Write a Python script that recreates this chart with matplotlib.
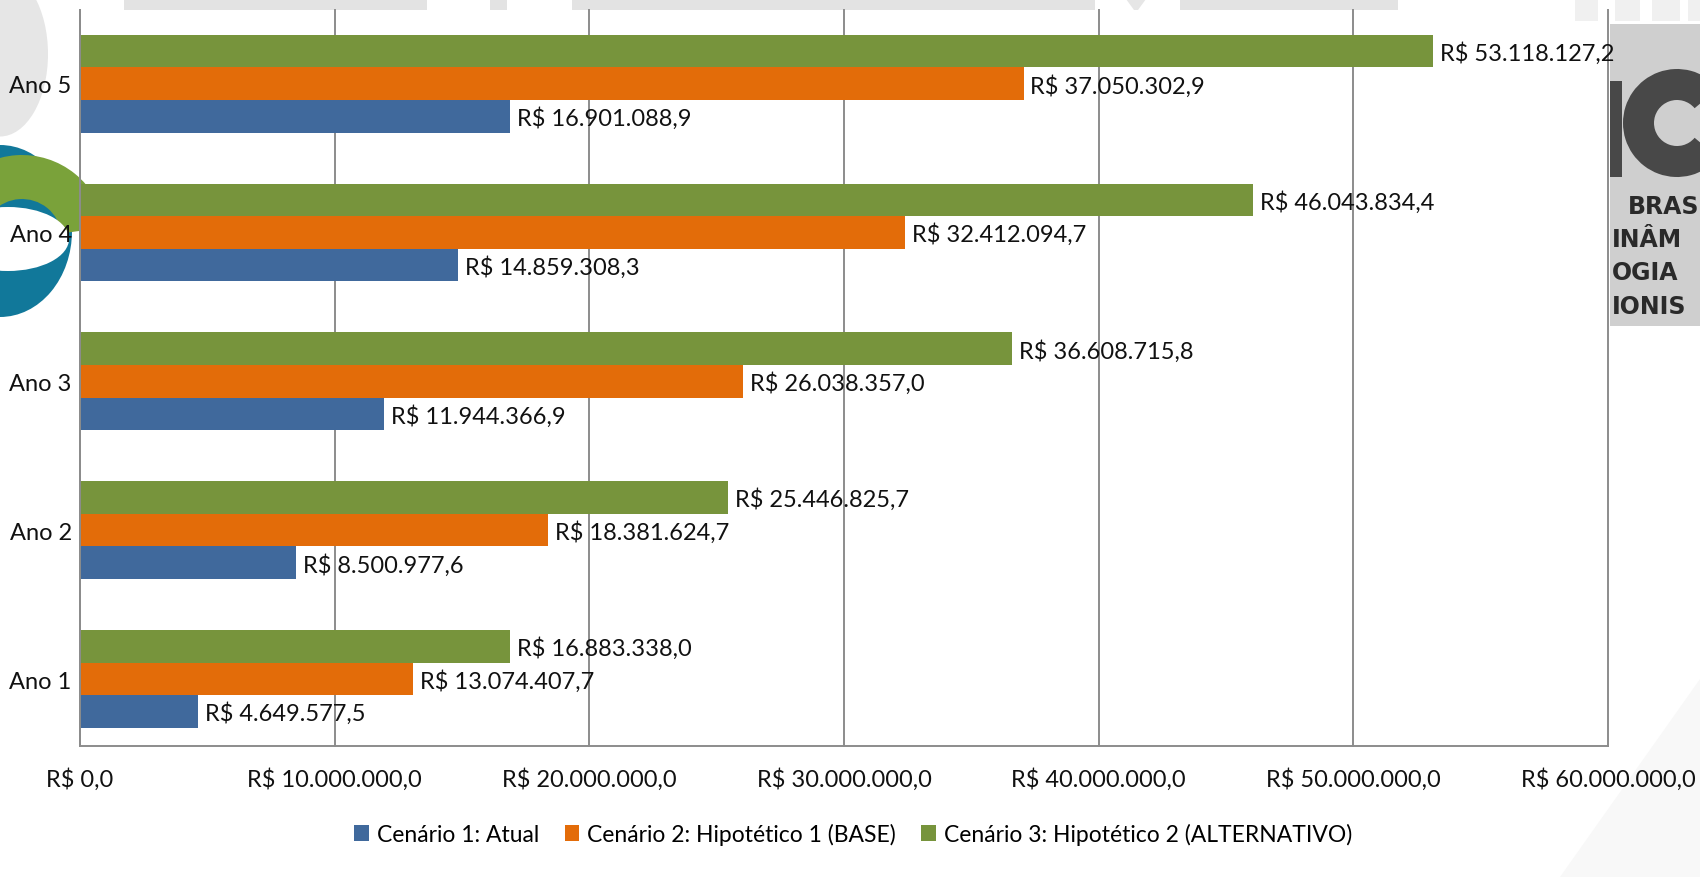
import matplotlib
matplotlib.use("Agg")
import matplotlib.pyplot as plt
from matplotlib.patches import Rectangle, Wedge, Ellipse, Polygon
import numpy as np

# valores em R$ por ano e cenário
anos = ["Ano 1", "Ano 2", "Ano 3", "Ano 4", "Ano 5"]
cenario_atual = [4649577.5, 8500977.6, 11944366.9, 14859308.3, 16901088.9]
cenario_base = [13074407.7, 18381624.7, 26038357.0, 32412094.7, 37050302.9]
cenario_alt = [16883338.0, 25446825.7, 36608715.8, 46043834.4, 53118127.2]
nomes = ["Cenário 1: Atual", "Cenário 2: Hipotético 1 (BASE)",
         "Cenário 3: Hipotético 2 (ALTERNATIVO)"]
xticks = [0, 10e6, 20e6, 30e6, 40e6, 50e6, 60e6]

cores = ["#40699C", "#E36C09", "#77943C"]
grade = "#8C8C8C"

plt.rcParams["font.family"] = ["Lato", "DejaVu Sans"]


def brl(v):
    s = f"{v:,.1f}"
    s = s.replace(",", "X").replace(".", ",").replace("X", ".")
    return "R$ " + s


W, H = 1700, 878
fig = plt.figure(figsize=(W / 100, H / 100), dpi=100)
fig.patch.set_facecolor("white")

# fundo do slide (marcas d'água e logos)
bg = fig.add_axes([0, 0, 1, 1], zorder=-1)
bg.set_xlim(0, W)
bg.set_ylim(H, 0)
bg.axis("off")
for x0, x1 in [(124, 427), (490, 507), (572, 1095), (1180, 1398)]:
    bg.add_patch(Rectangle((x0, 0), x1 - x0, 11, color="#E3E3E3", lw=0))
bg.add_patch(Polygon([(1126, 0), (1146, 0), (1138, 11), (1134, 11)], color="#E6E6E6", lw=0))
for x0, x1 in [(1575, 1598), (1615, 1640), (1652, 1680), (1688, 1700)]:
    bg.add_patch(Rectangle((x0, 0), x1 - x0, 22, color="#F0F0F0", lw=0))
bg.add_patch(Ellipse((0, 55), 96, 165, color="#E6E6E6", lw=0))
# logo à esquerda
bg.add_patch(Ellipse((0, 232), 144, 172, color="#11789A", lw=0))
bg.add_patch(Wedge((22, 240), 84, 180, 352, width=44, color="#7AA23A", lw=0))
bg.add_patch(Ellipse((8, 240), 122, 64, color="white", lw=0))
bg.add_patch(Polygon([(W, 680), (W, H), (1560, H)], color="#F8F8F8", lw=0))

# painel cinza à direita
pn = fig.add_axes([1610 / W, 1 - 327 / H, 90 / W, 302 / H], zorder=-1)
pn.set_xlim(1610, 1700)
pn.set_ylim(327, 25)
pn.set_facecolor("#CFCFCF")
pn.set_xticks([])
pn.set_yticks([])
for s in pn.spines.values():
    s.set_visible(False)
pn.add_patch(Rectangle((1610, 82), 12, 96, color="#484848", lw=0))
pn.add_patch(Wedge((1677, 124), 54, 40, 320, width=31, color="#484848", lw=0))
for txt, x, y in [("BRAS", 1628, 207), ("INÂM", 1612, 240),
                  ("OGIA", 1612, 273), ("IONIS", 1612, 307)]:
    pn.text(x, y, txt, family="DejaVu Sans", weight="bold", fontsize=17,
            color="#2A2A2A", ha="left", va="center")

# gráfico de barras
ax = fig.add_axes([80 / W, 1 - 747 / H, 1528 / W, 736 / H])
ax.patch.set_visible(False)
y = np.arange(len(anos))
h = 0.219
series = [cenario_atual, cenario_base, cenario_alt]
offsets = [-h, 0, h]
for vals, off, cor, nome in zip(series, offsets, cores, nomes):
    ax.barh(y + off, vals, height=h, color=cor, label=nome, zorder=2)
    for yi, v in zip(y, vals):
        ax.annotate(brl(v), (v, yi + off), xytext=(5, -1), textcoords="offset points",
                    ha="left", va="center", fontsize=17, color="#111111", zorder=3)

ax.set_xlim(0, 60e6)
ax.set_ylim(-0.45, 4.495)
ax.set_xticks(xticks)
ax.set_xticklabels([brl(v) for v in xticks])
ax.set_yticks(y)
ax.set_yticklabels(anos)
ax.tick_params(axis="both", length=0, labelsize=17, colors="#111111")
ax.tick_params(axis="x", pad=15)
ax.tick_params(axis="y", pad=6)
ax.xaxis.grid(True, color=grade, lw=1.4)
for gl in ax.get_xgridlines():
    gl.set_clip_on(False)
ax.set_axisbelow(True)
for side in ["top", "right"]:
    ax.spines[side].set_visible(False)
for side in ["left", "bottom"]:
    ax.spines[side].set_color(grade)
    ax.spines[side].set_linewidth(1.4)

ax.legend(loc="center", bbox_to_anchor=(0.502, 0.049), bbox_transform=fig.transFigure,
          ncol=3, frameon=False, fontsize=16.5, handlelength=0.65, handleheight=0.65,
          handletextpad=0.35, columnspacing=1.1)

fig.savefig("out.png", dpi=100)
